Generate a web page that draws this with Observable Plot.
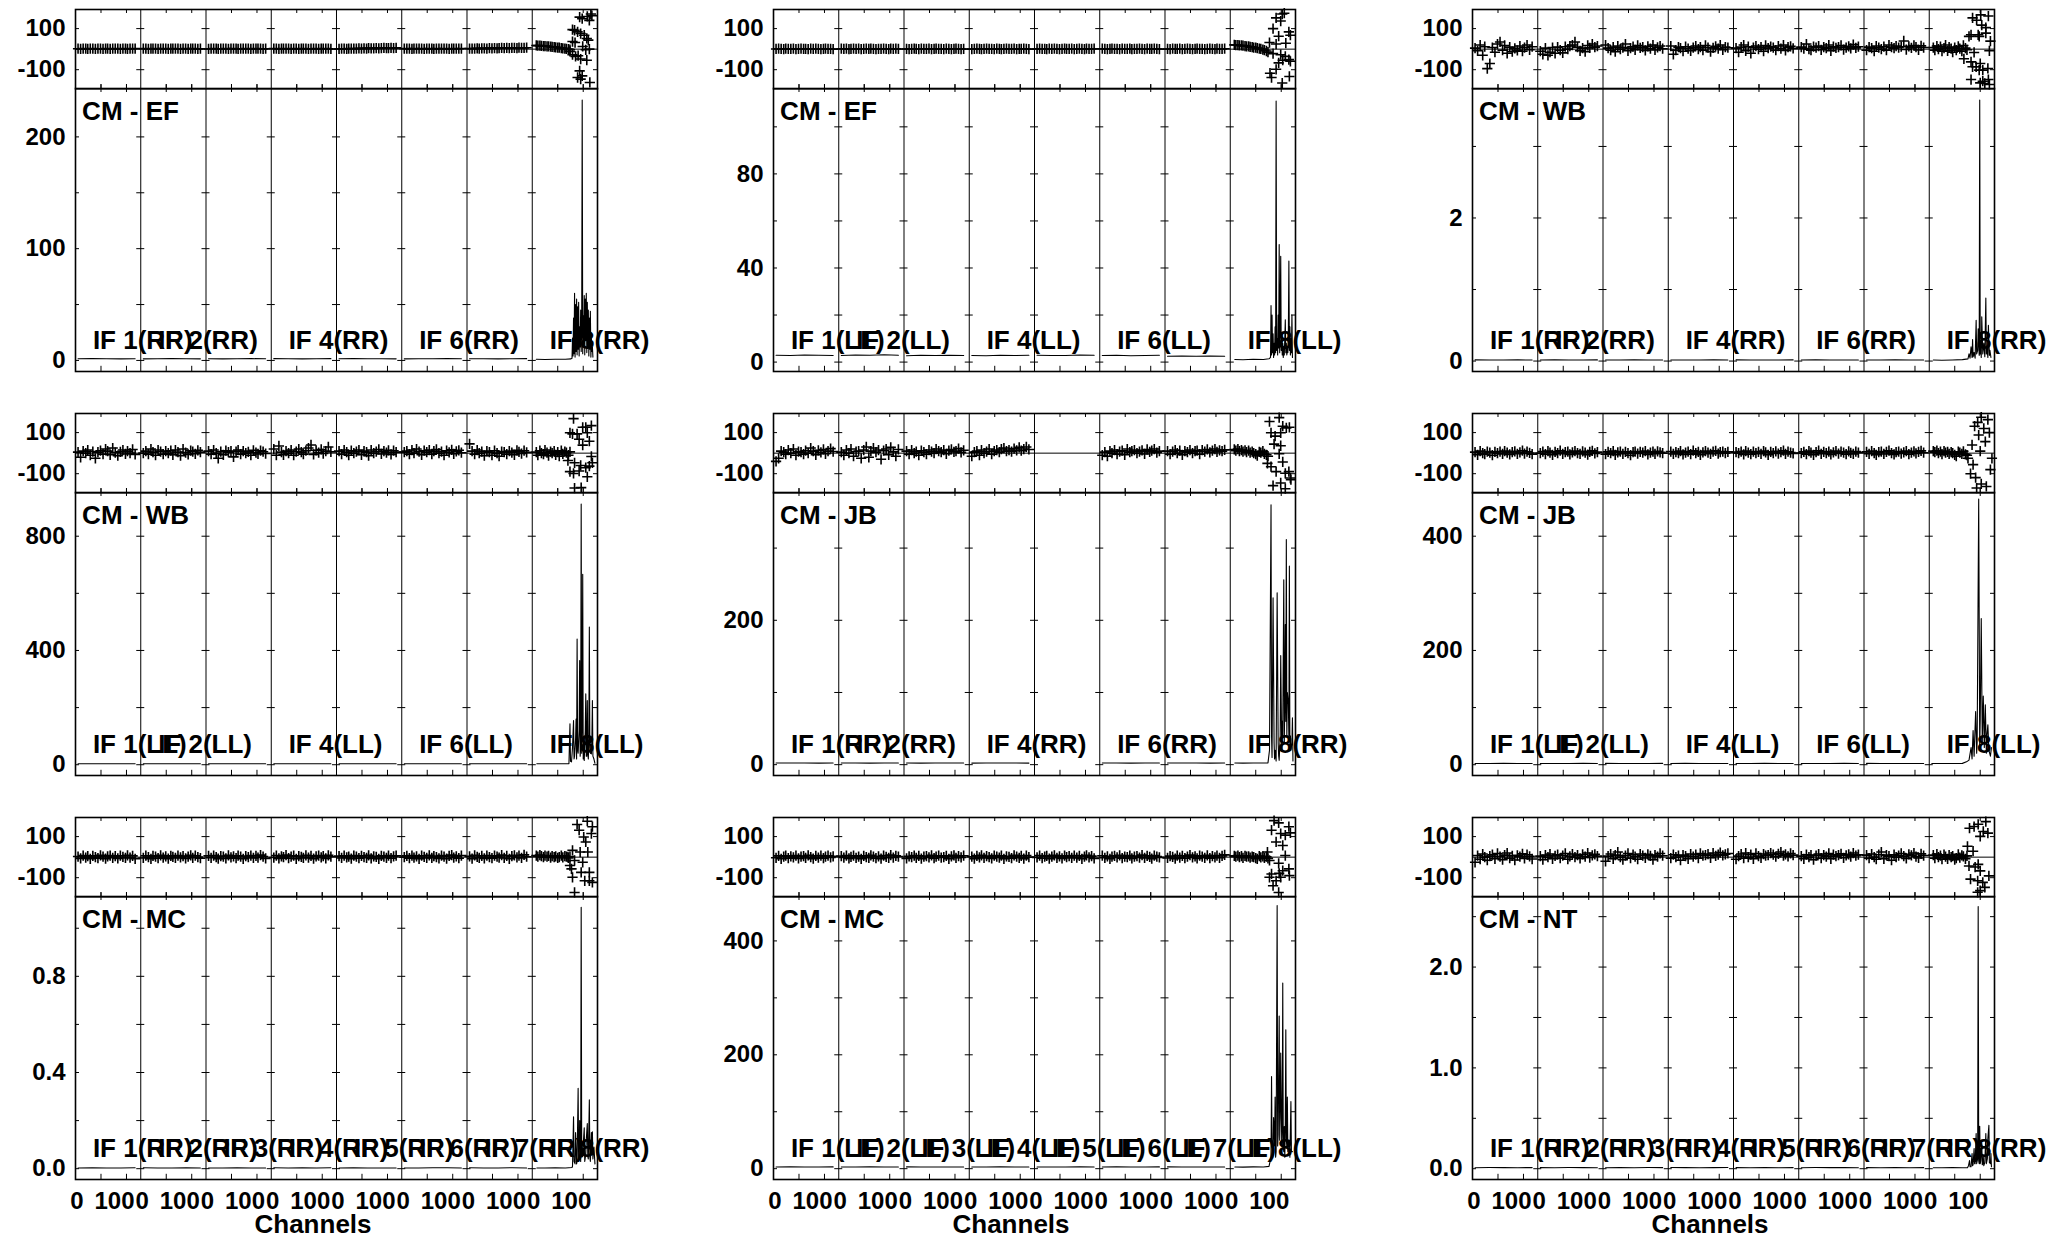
<!DOCTYPE html>
<html><head><meta charset="utf-8">
<script src="https://cdn.jsdelivr.net/npm/d3@7"></script>
<script src="https://cdn.jsdelivr.net/npm/@observablehq/plot@0.6"></script>
<style>
html,body{margin:0;padding:0;background:#fff;}
#wrap{position:relative;width:2049px;height:1238px;overflow:hidden;background:#fff;}
#wrap svg{position:absolute;overflow:visible;}
</style></head>
<body><div id="wrap"></div>
<script>
// ---------------- data ----------------
const baselines = ["CM - EF","CM - EF","CM - WB","CM - WB","CM - JB","CM - JB","CM - MC","CM - MC","CM - NT"];
const stokes    = ["RR","LL","RR","LL","RR","LL","RR","LL","RR"];
const ifNumbers = [1,2,3,4,5,6,7,8];
const ifLabelsByRow = [[1,2,4,6,8],[1,2,4,6,8],[1,2,3,4,5,6,7,8]];
const chanSpan = 128;
const chanTicks = [50,100];
const chanLabelZero = "0";
const chanLabelHundred = "100";
const xAxisTitle = "Channels";
const phaseDomain = [-193,193];
const phaseTicks = [-100,100];
const ampDomains = [[-9.9,243.3],[-4,116.3],[-0.146,3.81],[-37.7,953],[-15,377],[-18.9,476.5],[-0.045,1.132],[-19,478],[-0.107,2.70]];
const ampMajor = [[0,100,200],[0,40,80],[0,2],[0,400,800],[0,200],[0,200,400],[0,0.4,0.8],[0,200,400],[0,1,2]];
const ampMinor = [[50,150],[20,60,100],[1,3],[200,600],[100,300],[100,300],[0.2,0.6,1.0],[100,300],[0.5,1.5,2.5]];
const ampDigits = [0,0,0,0,0,0,1,0,1];

// channel grids (IF 1-7 phase, IF 8 quiet part, IF 1-7 amplitude)
const bandChans = [5,10,15,20,24,29,34,39,44,49,54,59,63,68,73,78,83,88,93,98,102,107,112,117];
const band8Chans = [8,11,15,18,22,25,29,32,36,39,43,46,50,53,57,60,64,67,71,74];
const ampChans = [5,33,61,89,117];

// phase (deg) IF1..IF7, 24 values each, '|' separated
const phase17 = [
"2 1 3 2 1 2 3 1 2 2 1 3 2 1 2 3 2 1 2 3 1 2 2 3|2 3 1 2 2 3 1 2 3 2 1 2 3 2 2 1 2 3 1 2 3 2 1 2|1 2 3 2 1 2 2 3 1 2 3 2 1 2 2 3 2 1 2 3 2 2 1 2|3 2 1 2 3 2 2 1 3 2 1 2 3 2 1 2 2 3 1 2 2 3 2 1|1 2 2 1 3 2 3 2 4 3 4 3 5 4 4 5 4 5 6 5 5 6 5 6|2 3 2 1 3 2 2 3 1 2 3 2 1 3 2 2 3 2 1 2 3 2 2 3|3 2 3 4 3 4 4 3 5 4 5 4 5 6 5 6 5 6 6 5 7 6 6 7",
"1 2 1 0 2 1 1 2 0 1 2 1 1 0 2 1 2 1 0 1 2 1 1 0|2 1 2 0 1 2 1 2 0 1 2 1 2 1 0 1 1 2 1 0 2 1 2 1|1 0 1 2 1 0 2 1 1 2 0 1 2 1 1 0 2 1 0 1 2 1 0 1|0 1 2 1 0 1 2 1 1 0 2 1 0 1 2 1 1 2 0 1 1 2 1 0|1 2 1 1 0 2 1 2 1 0 1 2 1 1 2 0 1 2 1 0 2 1 1 2|2 1 0 1 2 1 1 0 2 1 1 2 0 1 1 2 1 0 2 1 1 2 1 0|1 0 2 1 1 2 0 1 2 1 0 1 2 1 1 0 1 2 1 0 2 1 1 2",
"5 -8 20 -30 12 -95 -70 8 -15 25 35 -5 18 -20 10 -12 4 -6 15 -10 8 20 -3 12|-10 -25 5 -30 -15 8 -20 10 -5 -18 12 0 15 20 35 10 -8 5 -12 18 6 25 10 15|20 5 -5 10 -12 15 0 8 25 -8 5 12 -3 18 6 10 -6 14 3 20 -4 9 15 2|15 -25 -5 10 5 -10 12 3 -8 8 15 0 10 -5 18 8 -12 6 14 2 20 -3 10 7|5 -15 10 20 -8 12 -20 8 15 0 10 -10 18 5 12 8 -5 15 3 20 -6 10 14 4|10 3 25 0 -5 12 8 15 -3 10 5 20 -8 12 6 10 18 -2 8 14 4 22 6 12|-5 10 5 -10 15 8 0 12 -5 20 10 5 15 8 12 40 -2 14 6 18 10 -4 16 8",
"5 -20 10 0 15 -10 8 -25 5 12 -5 20 10 -8 25 3 -12 6 15 -4 10 0 18 -6|0 10 -5 20 5 -10 15 8 -5 10 0 12 -8 15 5 -12 20 3 -6 12 8 -3 14 5|10 -5 15 0 -25 8 -8 12 5 10 -18 8 15 -5 10 0 6 -10 14 3 -4 12 7 -2|20 -10 35 5 -8 10 0 15 -10 8 20 5 -5 12 25 40 -6 14 3 18 -2 10 30 6|10 -5 15 5 -10 12 0 8 15 -8 10 5 -12 15 0 8 18 -4 10 3 14 -6 12 5|5 10 -5 15 0 20 8 -8 12 5 15 -5 10 18 0 8 -10 12 4 16 -3 9 14 2|45 10 -5 15 0 8 -12 10 5 -10 12 0 -15 8 5 -5 10 3 -8 14 6 -2 12 4",
"-40 -25 10 5 -5 15 0 20 -10 8 5 -5 12 0 25 10 -8 14 4 18 -3 10 22 8|5 -10 15 0 20 -15 8 10 -25 15 30 -20 10 25 5 15 -30 12 20 -8 28 6 -15 18|10 -5 15 0 8 -10 12 5 -5 15 8 0 20 10 5 15 -3 12 18 6 10 22 4 14|-15 5 10 -10 15 0 8 20 -5 10 15 5 20 25 10 15 8 22 14 28 12 20 30 18||-10 5 -15 10 0 15 -5 8 12 -8 20 5 10 15 0 8 14 -4 18 6 12 20 3 10|10 -5 8 15 0 12 -8 10 5 15 0 10 12 -5 15 8 18 4 12 20 6 14 10 16",
"5 -8 10 0 -5 8 3 -10 6 0 8 -4 10 2 -6 5 9 -3 4 12 -2 7 1 -5|0 8 -5 10 3 -8 6 0 12 -3 5 8 -6 4 10 0 -4 9 2 -7 6 11 -1 5|-5 6 0 10 -8 4 8 -3 6 0 -10 5 8 -2 6 3 10 -6 2 7 -3 9 4 0|8 -4 5 0 10 -6 3 8 -5 12 0 6 -8 4 10 2 -3 7 11 -2 5 8 0 6|5 0 8 -6 10 3 -5 8 0 6 -3 10 4 -8 6 0 9 -2 5 12 -4 7 3 -1|0 6 -5 10 2 -8 5 12 -3 6 0 8 -6 4 10 -2 7 3 -5 9 1 -4 8 2|6 -3 10 0 -8 5 8 -4 6 12 0 -6 5 8 -2 4 10 -5 3 9 -1 6 11 2",
"3 -6 8 -2 5 -8 6 0 -5 9 2 -7 4 8 -3 5 -6 7 1 -4 9 -2 6 -8|-4 7 0 -8 6 2 -5 9 -2 4 -7 6 1 -4 8 -1 5 -6 3 9 -3 7 0 -5|6 -3 8 0 -7 5 3 -6 9 -1 4 -5 7 2 -8 5 0 8 -4 6 -2 10 3 -6|-2 8 -6 4 0 10 -5 3 7 -8 5 1 -4 9 -2 6 -7 4 8 -1 5 -6 9 2|5 -4 7 -1 3 -7 8 2 -5 6 0 -3 9 -6 4 1 -8 6 2 -3 8 -5 4 7|0 6 -5 8 -2 4 -8 7 1 -4 9 -3 5 0 -6 8 3 -7 6 10 -2 4 -5 8|4 -7 9 1 -3 6 -6 8 0 -5 7 3 -2 10 -4 6 -8 5 9 -1 7 -4 11 2",
"-3 6 -8 2 7 -5 4 -1 8 -6 3 5 -4 9 0 -7 6 -2 8 -5 3 7 -1 4|5 -2 8 -6 1 7 -4 3 -8 6 0 -3 9 2 -5 4 -7 8 1 -3 10 -2 6 3|-6 4 0 8 -3 6 -7 2 5 -1 9 -5 3 7 -2 0 6 -8 4 9 -3 5 -1 7|2 -7 6 -1 9 -4 5 0 -6 8 3 -2 7 -8 4 1 -5 9 2 -3 6 -7 8 0|-1 8 -5 3 6 -7 2 9 -3 4 -6 7 0 5 -4 8 -2 6 -8 3 9 -1 5 -6|7 -3 4 -8 2 6 -1 9 -5 3 0 8 -6 2 5 -2 10 -4 6 1 -7 8 3 -1|-4 5 1 -7 8 -2 6 -5 3 10 -1 4 -6 7 2 -3 9 -5 5 -1 8 -3 6 11",
"-25 8 -10 15 0 -15 5 12 -8 18 3 -12 10 20 -5 6 -14 9 2 16 -6 12 4 -9|5 -12 10 0 15 -8 6 12 -5 8 18 -10 4 15 0 10 -6 13 3 20 -2 9 14 5|-20 5 15 -8 10 25 0 -12 8 18 -5 12 3 -10 15 8 -4 14 6 -12 10 2 18 7|-5 12 0 8 -15 10 5 -8 15 3 12 -5 18 8 10 15 -3 20 6 12 22 9 14 18|-10 5 15 -5 20 0 12 -8 18 5 -3 15 8 10 20 12 2 16 25 8 14 4 18 10|5 -8 12 0 10 -12 8 15 -5 10 3 18 -8 12 5 10 16 -3 9 14 2 20 7 12|10 -5 15 0 -10 12 25 -8 10 5 -15 12 0 8 18 5 -6 14 9 20 3 -4 16 8"
];

// IF 8 quiet part of the phase (at band8Chans)
const phase8Band = [
"18 17 17 16 15 15 14 13 12 11 10 9 8 7 5 4 3 1 0 -2",
"21 20 19 18 18 17 15 14 13 11 10 8 7 5 3 1 -2 -5 -9 -15",
"8 -5 15 0 12 -10 5 20 -8 10 3 -15 8 -5 14 2 -10 18 5 -3",
"5 -10 12 0 -5 15 3 -12 8 0 10 -8 5 -15 12 -4 8 2 -10 6",
"18 12 20 10 15 8 14 5 12 3 8 0 -5 -12 6 2 10 -4 -8 -15",
"10 5 12 0 8 -5 10 3 6 -3 5 0 -8 -15 7 2 -4 9 -6 -10",
"8 3 10 5 0 8 2 6 -2 5 0 4 -3 0 7 -1 5 2 -4 3",
"6 2 8 0 5 -3 6 2 4 -2 3 0 -5 -8 5 -1 4 -3 2 -6",
"10 -5 15 0 8 -10 12 3 -8 10 0 5 -12 -5 14 -2 9 4 -8 6"
];

// IF 8 scattered phases [channel, deg]
const phase8Scatter = [
[[93,156],[98,148],[108,159],[115,171],[117,163],[112,140],[79,95],[83,92],[89,84],[95,76],[102,68],[79,37],[84,32],[107,52],[110,44],[74,-11],[79,-27],[85,-35],[90,-32],[95,-48],[107,-54],[105,-3],[112,0],[99,13],[93,-106],[89,-138],[95,-146],[113,-162],[98,-130]],
[[90,152],[102,171],[99,137],[106,175],[115,84],[118,68],[95,63],[84,100],[77,32],[90,25],[109,29],[84,-22],[99,-27],[95,-67],[103,-54],[115,-51],[118,-59],[108,-35],[78,-117],[81,-138],[90,-98],[102,-165],[116,-133]],
[[78,62],[82,70],[96,70],[98,62],[103,117],[85,152],[93,141],[101,167],[116,161],[111,105],[111,78],[120,39],[118,-8],[88,-16],[68,-47],[82,-62],[85,-86],[92,-86],[98,-102],[100,-70],[105,-102],[115,-94],[82,-148],[100,-164],[109,-167],[105,-156],[116,-148],[118,-172]],
[[81,168],[99,126],[105,126],[116,134],[74,99],[79,94],[92,68],[108,99],[112,58],[99,39],[70,-36],[83,-47],[95,-60],[74,-90],[81,-99],[92,-87],[105,-71],[112,-63],[118,-47],[83,-170],[96,-168],[108,-115],[116,-16],[88,94]],
[[77,154],[80,99],[88,83],[96,173],[99,99],[103,131],[110,123],[116,126],[99,36],[86,44],[73,-50],[80,-66],[90,-90],[103,-43],[96,-3],[108,-98],[118,-121],[115,-90],[84,-158],[99,-145],[108,-173],[119,-129]],
[[89,131],[102,175],[115,163],[97,88],[110,56],[76,-25],[86,-56],[91,-119],[102,-150],[112,-162],[81,-100],[123,-25],[95,150],[107,120],[118,100],[84,40],[100,10],[120,-80],[93,-170]],
[[88,159],[108,175],[118,148],[92,131],[101,98],[105,74],[116,115],[79,33],[70,0],[83,-16],[94,25],[99,-25],[109,25],[74,-41],[77,-57],[79,-98],[96,-74],[112,-74],[103,-115],[112,-115],[118,-123],[83,-172]],
[[86,178],[95,167],[81,131],[99,115],[108,107],[115,148],[118,118],[90,74],[103,57],[73,25],[77,-16],[95,-30],[108,8],[81,-82],[77,-98],[96,-79],[103,-66],[115,-57],[116,-90],[84,-139],[95,-172],[99,-98],[90,-115]],
[[79,141],[88,149],[96,160],[111,173],[106,125],[115,117],[100,101],[75,53],[86,29],[78,-43],[90,-48],[96,-35],[100,-67],[117,-91],[81,-107],[95,-115],[105,-123],[109,-147],[95,-171],[100,-163]]
];

// amplitude IF1..IF7 (5 values each at ampChans)
const amp17 = [
"1.5 1.6 1.5 1.4 1.5|1.4 1.5 1.6 1.5 1.4|1.5 1.4 1.5 1.6 1.5|1.6 1.5 1.4 1.5 1.6|1.5 1.6 1.5 1.5 1.4|1.4 1.5 1.5 1.6 1.5|1.5 1.5 1.4 1.5 1.6",
"2.9 2.8 3.0 2.9 2.8|2.8 3.0 2.9 3.1 2.9|2.7 2.9 2.8 2.9 2.8|2.8 2.7 2.9 2.8 2.9|2.9 2.8 2.8 3.0 2.9|2.8 2.9 2.7 2.8 2.9|2.5 2.6 2.5 2.6 2.5",
"0.016 0.014 0.015 0.016 0.015|0.015 0.016 0.014 0.015 0.016|0.014 0.015 0.016 0.015 0.014|0.015 0.014 0.015 0.016 0.015|0.016 0.015 0.014 0.015 0.016|0.015 0.016 0.015 0.014 0.015|0.014 0.015 0.016 0.015 0.014",
"3.4 3.6 3.5 3.5 3.4|3.5 3.4 3.6 3.5 3.5|3.6 3.5 3.4 3.5 3.6|3.5 3.5 3.6 3.4 3.5|3.4 3.5 3.5 3.6 3.5|3.5 3.6 3.4 3.5 3.4|3.6 3.5 3.5 3.4 3.5",
"2.3 2.4 2.3 2.2 2.3|2.4 2.3 2.2 2.4 2.3|2.3 2.2 2.4 2.3 2.4|2.2 2.3 2.4 2.3 2.2||2.3 2.4 2.2 2.3 2.4|2.4 2.3 2.3 2.2 2.3",
"2.2 2.1 2.3 2.2 2.1|2.1 2.2 2.2 2.3 2.2|2.3 2.2 2.1 2.2 2.3|2.2 2.3 2.2 2.1 2.2|2.1 2.2 2.3 2.2 2.2|2.2 2.1 2.2 2.3 2.1|2.3 2.2 2.2 2.1 2.2",
"0.003 0.004 0.003 0.003 0.004|0.004 0.003 0.003 0.004 0.003|0.003 0.003 0.004 0.003 0.003|0.004 0.003 0.004 0.003 0.004|0.003 0.004 0.003 0.003 0.003|0.003 0.003 0.004 0.004 0.003|0.004 0.003 0.003 0.004 0.003",
"3.0 3.1 2.9 3.0 3.1|2.9 3.0 3.1 3.0 2.9|3.1 3.0 2.9 3.0 3.0|3.0 2.9 3.1 3.0 2.9|2.9 3.0 3.0 3.1 3.0|3.0 3.1 2.9 3.0 3.1|3.1 3.0 3.0 2.9 3.0",
"0.010 0.012 0.011 0.010 0.011|0.011 0.010 0.012 0.011 0.010|0.010 0.011 0.010 0.012 0.011|0.012 0.011 0.010 0.011 0.012|0.011 0.010 0.011 0.010 0.011|0.010 0.012 0.011 0.011 0.010|0.011 0.010 0.012 0.010 0.011"
];

// amplitude IF 8 [channel, amp]
const amp8 = [
[[8,1.0],[25,0.9],[45,1.1],[65,1.0],[76,1.4],[78,2],[79,20],[80,4],[81,38],[82,6],[83,60],[84,3],[85,50],[86,8],[87,55],[88,5],[89,48],[90,10],[91,52],[92,4],[93,30],[94,12],[95,45],[96,8],[97,30],[98,233],[99,6],[100,40],[101,15],[102,58],[103,5],[104,55],[105,18],[106,60],[107,7],[108,52],[109,12],[110,45],[111,4],[112,38],[113,10],[114,44],[115,3],[116,20],[117,8],[118,12],[119,3]],
[[9,1.1],[25,1.0],[45,1.2],[65,1.1],[76,1.4],[79,2],[80,24],[81,3],[82,20],[83,4],[84,12],[85,2],[86,8],[87,3],[88,15],[89,4],[90,111],[91,5],[92,10],[93,3],[94,20],[95,6],[96,50],[97,4],[98,18],[99,45],[100,5],[101,12],[102,3],[103,8],[104,2],[105,6],[106,3],[107,10],[108,18],[109,4],[110,8],[111,3],[112,6],[113,4],[114,12],[115,43],[116,5],[117,15],[118,3],[119,10],[120,4],[121,20],[122,2]],
[[8,0.015],[25,0.012],[45,0.015],[65,0.02],[76,0.03],[78,0.1],[80,0.04],[82,0.2],[84,0.05],[85,0.3],[86,0.06],[88,0.12],[90,0.04],[92,0.57],[93,0.1],[95,0.15],[96,0.45],[98,0.08],[99,3.65],[100,0.1],[101,0.2],[102,0.05],[103,0.62],[105,0.1],[107,0.25],[109,0.06],[111,0.88],[112,0.1],[113,0.2],[115,0.05],[116,0.5],[118,0.08],[119,0.15],[121,0.05]],
[[9,3.5],[25,3.4],[45,3.6],[65,3.5],[72,4],[74,143],[75,12],[77,10],[79,60],[81,155],[82,20],[83,30],[85,90],[86,160],[87,20],[88,440],[89,50],[90,40],[92,120],[93,365],[94,30],[95,60],[96,913],[97,40],[98,150],[99,667],[100,20],[101,80],[102,15],[104,120],[105,248],[106,30],[107,30],[108,225],[109,40],[110,20],[111,90],[112,482],[113,60],[114,40],[116,38],[117,90],[118,225],[119,30],[121,20],[123,5]],
[[9,2.3],[25,2.2],[45,2.4],[65,2.3],[74,2.5],[77,20],[80,360],[81,40],[82,10],[84,231],[86,30],[87,8],[88,20],[90,5],[92,238],[94,30],[95,12],[96,6],[98,40],[99,151],[101,20],[102,60],[103,40],[105,256],[106,30],[107,90],[108,194],[109,60],[110,312],[111,40],[112,100],[114,84],[115,40],[116,275],[117,20],[118,40],[119,20],[121,30],[122,65],[123,5]],
[[5,2.2],[25,2.1],[45,2.2],[65,2.3],[73,5],[78,8],[82,30],[84,10],[86,60],[88,15],[91,93],[93,20],[94,40],[97,465],[99,30],[100,80],[102,256],[104,40],[106,120],[108,30],[110,105],[112,20],[113,50],[115,70],[117,25],[120,15],[122,30]],
[[9,0.003],[25,0.003],[45,0.004],[65,0.003],[78,0.005],[79,0.01],[81,0.216],[82,0.03],[84,0.02],[85,0.15],[86,0.09],[87,0.02],[88,0.03],[90,0.334],[91,0.04],[92,0.05],[93,0.2],[94,0.12],[95,0.03],[96,1.087],[97,0.05],[99,0.05],[100,0.1],[102,0.17],[103,0.03],[105,0.06],[106,0.12],[108,0.188],[109,0.05],[110,0.04],[112,0.286],[113,0.05],[114,0.03],[116,0.15],[117,0.06],[118,0.153],[119,0.04],[121,0.09],[123,0.02]],
[[9,3],[25,2.8],[45,3.1],[65,3],[76,4],[80,20],[81,162],[82,40],[84,30],[85,90],[86,68],[87,40],[88,126],[89,20],[90,30],[92,462],[93,40],[94,60],[96,268],[97,50],[98,90],[99,203],[101,40],[102,70],[103,326],[104,40],[105,30],[106,74],[107,20],[108,80],[109,244],[110,50],[111,40],[112,126],[113,30],[115,50],[116,50],[117,20],[119,118],[120,30],[122,30]],
[[8,0.01],[25,0.01],[45,0.012],[65,0.01],[75,0.01],[77,0.03],[79,0.08],[80,0.02],[82,0.02],[84,0.15],[85,0.03],[86,0.04],[88,0.2],[89,0.05],[90,0.05],[92,0.35],[93,0.05],[95,0.1],[96,2.6],[97,0.08],[98,0.05],[99,0.42],[100,0.05],[101,0.08],[103,0.25],[104,0.04],[105,0.05],[106,0.12],[107,0.03],[109,0.06],[111,0.35],[112,0.05],[114,0.1],[115,0.3],[117,0.43],[118,0.06],[120,0.05],[121,0.15],[122,0.02]]
];

// ---------------- layout ----------------
const FONT = '"Liberation Sans", Arial, Helvetica, sans-serif';
const colLeft = [74.6, 772.8, 1471.7];
const rowTop = [9, 413, 817];
const W = 522, PH = 79.3, AH = 283;
const mL = 90, mR = 12;
const tickPx = 4;
const INK = "#000";

const gx = (ifn, ch) => (ifn - 1) + ch / chanSpan;
const parseNums = s => s.trim() === "" ? [] : s.trim().split(/\s+/).map(Number);
const bounds = [0,1,2,3,4,5,6,7,8];
const kx = 8 / W;
const xTickPos = ifNumbers.flatMap(n => chanTicks.map(c => gx(n, c)));

function yTickSegs(values) {
  return values.flatMap(v => bounds.map(b => ({y: v, x1: Math.max(0, b - tickPx * kx), x2: Math.min(8, b + tickPx * kx)})));
}

const wrap = document.getElementById("wrap");
function place(svg, left, top) {
  svg.style.left = left + "px";
  svg.style.top = top + "px";
  wrap.appendChild(svg);
}

for (let p = 0; p < 9; p++) {
  const row = Math.floor(p / 3), col = p % 3;
  const left = colLeft[col], top = rowTop[row];

  // ---- phase data
  const groups = phase17[p].split("|").map(parseNums);
  const phaseData = [];
  groups.forEach((vals, i) => vals.forEach((v, j) => phaseData.push({x: gx(i + 1, bandChans[j]), y: v})));
  parseNums(phase8Band[p]).forEach((v, j) => phaseData.push({x: gx(8, band8Chans[j]), y: v}));
  phase8Scatter[p].forEach(([c, v]) => phaseData.push({x: gx(8, c), y: v}));

  const pky = (phaseDomain[1] - phaseDomain[0]) / PH;
  const phaseTop = 4, phaseBot = 2;
  const phasePlot = Plot.plot({
    width: W + mL + mR, height: PH + phaseTop + phaseBot,
    marginLeft: mL, marginRight: mR, marginTop: phaseTop, marginBottom: phaseBot,
    x: {domain: [0, 8], axis: null},
    y: {domain: phaseDomain, axis: null},
    style: {background: "transparent", fontFamily: FONT, overflow: "visible"},
    marks: [
      Plot.ruleY([0], {stroke: INK, strokeWidth: 1}),
      Plot.ruleX(bounds.slice(1, 8), {stroke: INK, strokeWidth: 1}),
      Plot.ruleY(yTickSegs(phaseTicks), {y: "y", x1: "x1", x2: "x2", stroke: INK, strokeWidth: 1}),
      Plot.ruleX(xTickPos, {x: d => d, y1: phaseDomain[1], y2: phaseDomain[1] - tickPx * pky, stroke: INK, strokeWidth: 1}),
      Plot.ruleX(xTickPos, {x: d => d, y1: phaseDomain[0], y2: phaseDomain[0] + tickPx * pky, stroke: INK, strokeWidth: 1}),
      Plot.dot(phaseData, {x: "x", y: "y", symbol: "plus", r: 3.4, stroke: INK, strokeWidth: 1.6}),
      Plot.frame({stroke: INK, strokeWidth: 1.6}),
      Plot.text(phaseTicks, {x: () => 0, y: d => d, text: d => String(d), textAnchor: "end", dx: -10, fontSize: 24, fontWeight: "bold", fill: INK})
    ]
  });
  place(phasePlot, left - mL, top - phaseTop);

  // ---- amplitude data
  const aGroups = amp17[p].split("|").map(parseNums);
  const ampData = [];
  aGroups.forEach((vals, i) => vals.forEach((v, j) => ampData.push({x: gx(i + 1, ampChans[j]), y: v, s: i + 1})));
  amp8[p].forEach(([c, v]) => ampData.push({x: gx(8, c), y: v, s: 8}));

  const dom = ampDomains[p];
  const aky = (dom[1] - dom[0]) / AH;
  const isBottom = row === 2;
  const ampTop = 2, ampBot = isBottom ? 70 : 4;
  const fmt = d => d.toFixed(ampDigits[p]);
  const ifLabs = ifLabelsByRow[row];

  const marks = [
    Plot.ruleX(bounds.slice(1, 8), {stroke: INK, strokeWidth: 1}),
    Plot.ruleY(yTickSegs(ampMajor[p].concat(ampMinor[p])), {y: "y", x1: "x1", x2: "x2", stroke: INK, strokeWidth: 1}),
    Plot.ruleX(xTickPos, {x: d => d, y1: dom[1] + tickPx * aky, y2: dom[1] - tickPx * aky, stroke: INK, strokeWidth: 1}),
    Plot.ruleX(xTickPos, {x: d => d, y1: dom[0], y2: dom[0] + tickPx * 1.3 * aky, stroke: INK, strokeWidth: 1}),
    Plot.line(ampData, {x: "x", y: "y", z: "s", stroke: INK, strokeWidth: 1.1}),
    Plot.frame({stroke: INK, strokeWidth: 1.6}),
    Plot.text(ampMajor[p], {x: () => 0, y: d => d, text: fmt, textAnchor: "end", dx: -10, fontSize: 24, fontWeight: "bold", fill: INK}),
    Plot.text([baselines[p]], {frameAnchor: "top-left", text: d => d, dx: 6.6, dy: 13.4, lineAnchor: "top", textAnchor: "start", fontSize: 26, fontWeight: "bold", fill: INK}),
    Plot.text(ifLabs, {x: d => gx(d, 0), frameAnchor: "bottom", text: d => `IF ${d}(${stokes[p]})`, dx: 17.4, dy: -23, lineAnchor: "bottom", textAnchor: "start", fontSize: 26, fontWeight: "bold", fill: INK})
  ];
  if (isBottom) {
    marks.push(
      Plot.text(ifNumbers, {x: d => gx(d, 0), frameAnchor: "bottom", text: () => chanLabelZero, dx: 1.4, dy: 29, lineAnchor: "bottom", fontSize: 24, fontWeight: "bold", fill: INK}),
      Plot.text(ifNumbers, {x: d => gx(d, 100), frameAnchor: "bottom", text: () => chanLabelHundred, dx: -12, dy: 29, lineAnchor: "bottom", fontSize: 24, fontWeight: "bold", fill: INK}),
      Plot.text([xAxisTitle], {x: () => 3.64, frameAnchor: "bottom", text: d => d, dy: 53, lineAnchor: "bottom", fontSize: 26, fontWeight: "bold", fill: INK})
    );
  }
  const ampPlot = Plot.plot({
    width: W + mL + mR, height: AH + ampTop + ampBot,
    marginLeft: mL, marginRight: mR, marginTop: ampTop, marginBottom: ampBot,
    x: {domain: [0, 8], axis: null},
    y: {domain: dom, axis: null},
    style: {background: "transparent", fontFamily: FONT, overflow: "visible"},
    marks
  });
  place(ampPlot, left - mL, top + PH - ampTop);
}
</script>
</body></html>
